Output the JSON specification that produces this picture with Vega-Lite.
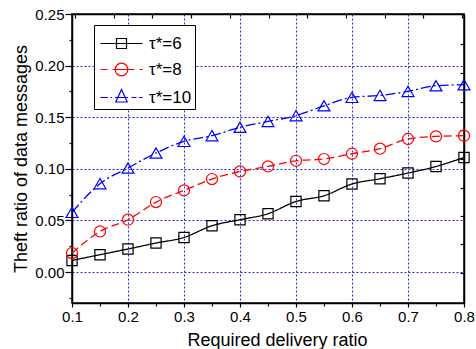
{
  "$schema": "https://vega.github.io/schema/vega-lite/v6.json",
  "width": 392,
  "height": 289,
  "autosize": {"type": "none"},
  "padding": {"left": 72, "top": 14, "right": 12, "bottom": 46},
  "config": {
    "view": {"stroke": "black", "strokeWidth": 1.5},
    "font": "Liberation Sans",
    "axis": {
      "domainColor": "black", "domainWidth": 1.5,
      "tickColor": "black", "tickWidth": 1.2,
      "labelColor": "black", "labelFont": "Liberation Sans", "labelFontSize": 15,
      "titleColor": "black", "titleFont": "Liberation Sans", "titleFontSize": 18, "titleFontWeight": "normal",
      "gridColor": "#0000ff", "gridDash": [2, 2], "gridWidth": 1
    }
  },
  "data": {
    "values": [
      {"r": 0.1, "v": 0.0112, "s": "τ*=6"},
      {"r": 0.15, "v": 0.0168, "s": "τ*=6"},
      {"r": 0.2, "v": 0.0223, "s": "τ*=6"},
      {"r": 0.25, "v": 0.0281, "s": "τ*=6"},
      {"r": 0.3, "v": 0.0335, "s": "τ*=6"},
      {"r": 0.35, "v": 0.0449, "s": "τ*=6"},
      {"r": 0.4, "v": 0.0507, "s": "τ*=6"},
      {"r": 0.45, "v": 0.0565, "s": "τ*=6"},
      {"r": 0.5, "v": 0.0684, "s": "τ*=6"},
      {"r": 0.55, "v": 0.0739, "s": "τ*=6"},
      {"r": 0.6, "v": 0.0853, "s": "τ*=6"},
      {"r": 0.65, "v": 0.0904, "s": "τ*=6"},
      {"r": 0.7, "v": 0.0959, "s": "τ*=6"},
      {"r": 0.75, "v": 0.1023, "s": "τ*=6"},
      {"r": 0.8, "v": 0.111, "s": "τ*=6"},
      {"r": 0.1, "v": 0.0184, "s": "τ*=8"},
      {"r": 0.15, "v": 0.0393, "s": "τ*=8"},
      {"r": 0.2, "v": 0.0507, "s": "τ*=8"},
      {"r": 0.25, "v": 0.0678, "s": "τ*=8"},
      {"r": 0.3, "v": 0.0791, "s": "τ*=8"},
      {"r": 0.35, "v": 0.0901, "s": "τ*=8"},
      {"r": 0.4, "v": 0.0975, "s": "τ*=8"},
      {"r": 0.45, "v": 0.1023, "s": "τ*=8"},
      {"r": 0.5, "v": 0.1078, "s": "τ*=8"},
      {"r": 0.55, "v": 0.1095, "s": "τ*=8"},
      {"r": 0.6, "v": 0.1146, "s": "τ*=8"},
      {"r": 0.65, "v": 0.1195, "s": "τ*=8"},
      {"r": 0.7, "v": 0.1289, "s": "τ*=8"},
      {"r": 0.75, "v": 0.1314, "s": "τ*=8"},
      {"r": 0.8, "v": 0.1321, "s": "τ*=8"},
      {"r": 0.1, "v": 0.0578, "s": "τ*=10"},
      {"r": 0.15, "v": 0.0856, "s": "τ*=10"},
      {"r": 0.2, "v": 0.1008, "s": "τ*=10"},
      {"r": 0.25, "v": 0.1153, "s": "τ*=10"},
      {"r": 0.3, "v": 0.1266, "s": "τ*=10"},
      {"r": 0.35, "v": 0.1321, "s": "τ*=10"},
      {"r": 0.4, "v": 0.1403, "s": "τ*=10"},
      {"r": 0.45, "v": 0.1459, "s": "τ*=10"},
      {"r": 0.5, "v": 0.1515, "s": "τ*=10"},
      {"r": 0.55, "v": 0.1611, "s": "τ*=10"},
      {"r": 0.6, "v": 0.1692, "s": "τ*=10"},
      {"r": 0.65, "v": 0.1711, "s": "τ*=10"},
      {"r": 0.7, "v": 0.175, "s": "τ*=10"},
      {"r": 0.75, "v": 0.1805, "s": "τ*=10"},
      {"r": 0.8, "v": 0.1815, "s": "τ*=10"}
    ]
  },
  "resolve": {
    "scale": {"color": "independent", "shape": "independent", "size": "independent"},
    "axis": {"x": "independent", "y": "independent"}
  },
  "layer": [
    {
      "mark": {"type": "line", "interpolate": "monotone", "strokeWidth": 1.3},
      "encoding": {
        "x": {
          "field": "r", "type": "quantitative",
          "scale": {"domain": [0.1, 0.8], "nice": false, "zero": false},
          "axis": {
            "orient": "bottom",
            "title": "Required delivery ratio",
            "titlePadding": 7,
            "titleX": 205,
            "values": [0.1, 0.15, 0.2, 0.25, 0.3, 0.35, 0.4, 0.45, 0.5, 0.55, 0.6, 0.65, 0.7, 0.75, 0.8],
            "labelExpr": "round(datum.value*20)%2==0 ? format(datum.value,'.1f') : ''",
            "tickSize": {"condition": {"test": "round(datum.value*20)%2==0", "value": 4}, "value": 3},
            "labelPadding": 2,
            "labelFlush": false,
            "labelOverlap": false,
            "grid": true,
            "gridOpacity": {"condition": {"test": "round(datum.value*20)%2==0", "value": 0.85}, "value": 0}
          }
        },
        "y": {
          "field": "v", "type": "quantitative",
          "scale": {"domain": [-0.03, 0.25], "nice": false, "zero": false},
          "axis": {
            "orient": "left",
            "title": "Theft ratio of data messages",
            "titlePadding": 4,
            "values": [-0.025, 0, 0.025, 0.05, 0.075, 0.1, 0.125, 0.15, 0.175, 0.2, 0.225, 0.25],
            "labelExpr": "round(datum.value*40)%2==0 ? format(datum.value,'.2f') : ''",
            "tickSize": {"condition": {"test": "round(datum.value*40)%2==0", "value": 7}, "value": 3},
            "labelPadding": 1,
            "labelFlush": false,
            "labelOverlap": false,
            "grid": true,
            "gridOpacity": {"condition": {"test": "round(datum.value*40)%2==0", "value": 0.85}, "value": 0}
          }
        },
        "color": {
          "field": "s", "type": "nominal",
          "scale": {"domain": ["τ*=6", "τ*=8", "τ*=10"], "range": ["#000000", "#ff0000", "#0000ff"]},
          "legend": null
        },
        "strokeDash": {
          "field": "s", "type": "nominal",
          "scale": {"domain": ["τ*=6", "τ*=8", "τ*=10"], "range": [[1, 0], [8, 4], [10, 3, 2, 3]]},
          "legend": null
        }
      }
    },
    {
      "mark": {"type": "point", "filled": false, "strokeWidth": 1.2, "opacity": 1},
      "encoding": {
        "x": {
          "field": "r", "type": "quantitative",
          "axis": {
            "orient": "top", "title": null, "labels": false, "grid": false,
            "values": [0.1054, 0.1745, 0.2436, 0.3127, 0.3818, 0.4509, 0.52, 0.5891, 0.6582, 0.7273, 0.7964],
            "tickSize": -4
          }
        },
        "y": {
          "field": "v", "type": "quantitative",
          "axis": {
            "orient": "right", "title": null, "labels": false, "grid": false,
            "values": [-0.001, 0.0267, 0.0543, 0.0819, 0.1098, 0.1375, 0.1652, 0.1929, 0.2206],
            "tickSize": -4
          }
        },
        "color": {
          "field": "s", "type": "nominal",
          "scale": {"domain": ["τ*=6", "τ*=8", "τ*=10"], "range": ["#000000", "#ff0000", "#0000ff"]},
          "legend": null
        },
        "shape": {
          "field": "s", "type": "nominal",
          "scale": {"domain": ["τ*=6", "τ*=8", "τ*=10"], "range": ["square", "circle", "triangle-up"]},
          "legend": null
        },
        "size": {
          "field": "s", "type": "ordinal",
          "scale": {"domain": ["τ*=6", "τ*=8", "τ*=10"], "range": [105, 140, 190]},
          "legend": null
        }
      }
    },
    {
      "mark": {"type": "point", "filled": false, "opacity": 0},
      "encoding": {
        "x": {"field": "r", "type": "quantitative", "axis": null},
        "y": {"field": "v", "type": "quantitative", "axis": null},
        "color": {
          "field": "s", "type": "nominal",
          "scale": {"domain": ["τ*=6", "τ*=8", "τ*=10"], "range": ["#000000", "#ff0000", "#0000ff"]},
          "legend": {
            "orient": "none", "legendX": 22, "legendY": 11, "title": " ",
            "titleFontSize": 5, "titlePadding": 2,
            "strokeColor": "black", "fillColor": "white", "padding": 3,
            "symbolSize": 100, "symbolStrokeWidth": 1.2, "symbolOpacity": 1,
            "symbolOffset": 16, "labelOffset": 19,
            "labelFont": "Liberation Sans", "labelFontSize": 17, "labelColor": "black",
            "rowPadding": 8
          }
        },
        "shape": {
          "field": "s", "type": "nominal",
          "scale": {
            "domain": ["τ*=6", "τ*=8", "τ*=10"],
            "range": [
              "M-4.2,0H4.2M-1,-1H1V1H-1Z",
              "M-4.2,0H-2.8M-1.8,0H2.6M3.6,0H4.2M-1.26,0A1.26,1.26 0 1,0 1.26,0A1.26,1.26 0 1,0 -1.26,0Z",
              "M-4.2,0H-2.7M-2.2,0H-1.9M-1.3,0H1.3M2,0H3M3.5,0H4.2M0,-1.6L1.15,0.9L-1.15,0.9Z"
            ]
          },
          "legend": {
            "orient": "none", "legendX": 22, "legendY": 11, "title": " ",
            "titleFontSize": 5, "titlePadding": 2,
            "strokeColor": "black", "fillColor": "white", "padding": 3,
            "symbolSize": 100, "symbolStrokeWidth": 1.2, "symbolOpacity": 1,
            "symbolOffset": 16, "labelOffset": 19,
            "labelFont": "Liberation Sans", "labelFontSize": 17, "labelColor": "black",
            "rowPadding": 8
          }
        }
      }
    }
  ]
}
